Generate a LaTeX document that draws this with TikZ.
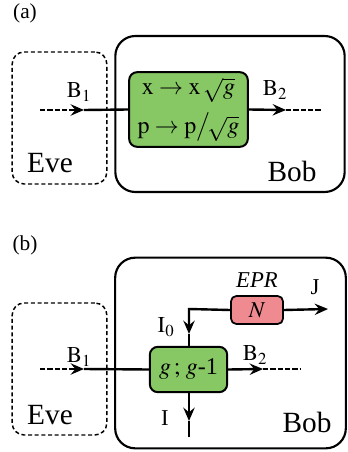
\documentclass[tikz,border=0pt]{standalone}
\usepackage{mathptmx}
\usepackage{fontspec}
\setmainfont{Liberation Serif}
\usetikzlibrary{arrows.meta}
\definecolor{ampgreen}{RGB}{135,200,100}
\definecolor{eprpink}{RGB}{240,138,145}
\tikzset{
  party/.style={draw, line width=1.6pt, rounded corners=15pt, inner sep=0pt},
  evebox/.style={draw, line width=1.1pt, dash pattern=on 3pt off 2pt, rounded corners=9pt, inner sep=0pt},
  amp/.style={draw, line width=1.5pt, rounded corners=6pt, fill=ampgreen, inner sep=0pt, align=center},
  epr/.style={draw, line width=1.3pt, rounded corners=4pt, fill=eprpink, inner sep=0pt},
  wire/.style={line width=1.8pt},
  tip/.style={wire, -{Stealth[length=10pt, width=8.5pt, inset=3.5pt]}},
  dashwire/.style={wire, dash pattern=on 4pt off 1.5pt},
  lbl/.style={font=\fontsize{17}{20}\selectfont, inner sep=0pt},
  party lbl/.style={font=\fontsize{22}{26}\selectfont, inner sep=0pt},
  panel/.style={font=\fontsize{16}{19}\selectfont, inner sep=0pt}
}
\begin{document}
\begin{tikzpicture}[x=0.75pt, y=-0.75pt]
    \useasboundingbox (0,0) rectangle (347,452);
    % (a)
    \node[panel] (pa) at (25,13) {(a)};
    \node[evebox, minimum width=71pt, minimum height=99pt] (evea) at (59.5,118) {};
    \node[party, minimum width=172pt, minimum height=117pt] (boba) at (230,114) {};
    \node[party lbl] (evealbl) at (50,163) {Eve};
    \node[party lbl] (bobalbl) at (292,171) {Bob};
    \node[amp, minimum width=89pt, minimum height=56pt, font=\fontsize{18}{29}\selectfont] (ampa) at (188.5,109.5)
      {$\mathrm{x}\rightarrow\mathrm{x}\mkern2mu\sqrt{g}$\\ $\mathrm{p}\rightarrow\mathrm{p}\big/\!\sqrt{g}$};
    \coordinate (b1ain) at (40,110);
    \coordinate (b1atip) at (84,110);
    \coordinate (b2atip) at (286,110);
    \coordinate (b2aout) at (322,110);
    \draw[tip, dashwire] (b1ain) -- (b1atip);
    \draw[wire] (b1atip) -- (ampa.west);
    \draw[tip] (ampa.east) -- (b2atip);
    \draw[dashwire] (b2atip) -- (b2aout);
    \node[lbl] (b1alb) at (79,92) {$\mathrm{B}_1$};
    \node[lbl] (b2alb) at (275,90) {$\mathrm{B}_2$};
    % (b)
    \node[panel] (pb) at (25,245) {(b)};
    \node[evebox, minimum width=71pt, minimum height=99pt] (eveb) at (59.5,369) {};
    \node[party, minimum width=173pt, minimum height=143pt] (bobb) at (230.5,353) {};
    \node[party lbl] (eveblbl) at (50,415) {Eve};
    \node[party lbl] (bobblbl) at (307,422) {Bob};
    \node[amp, minimum width=58pt, minimum height=34pt, font=\fontsize{18}{22}\selectfont] (ampb) at (188.5,369.5) {$g\,;\,g$-1};
    \node[epr, minimum width=39pt, minimum height=21pt, font=\fontsize{17}{20}\selectfont] (eprn) at (257,310) {$N$};
    \coordinate (b1bin) at (40,369);
    \coordinate (b1btip) at (84,369);
    \coordinate (b2btip) at (263,369);
    \coordinate (b2bout) at (300,369);
    \coordinate (knee) at (189,309);
    \coordinate (i0tip) at (189,334);
    \coordinate (itip) at (189,421);
    \coordinate (iend) at (189,437);
    \coordinate (jtip) at (328,309);
    \draw[tip, dashwire] (b1bin) -- (b1btip);
    \draw[wire] (b1btip) -- (ampb.west);
    \draw[tip] (ampb.east) -- (b2btip);
    \draw[dashwire] (b2btip) -- (b2bout);
    \draw[tip] (eprn.west) -- (knee) -- (i0tip);
    \draw[wire] (i0tip) -- (ampb.north -| knee);
    \draw[tip] (ampb.south -| knee) -- (itip);
    \draw[wire] (itip) -- (iend);
    \draw[tip] (eprn.east) -- (jtip);
    \node[lbl] (b1blb) at (79,357) {$\mathrm{B}_1$};
    \node[lbl] (b2blb) at (255,355) {$\mathrm{B}_2$};
    \node[lbl] (i0lb) at (166,327) {$\mathrm{I}_0$};
    \node[lbl] (ilb) at (165,418) {I};
    \node[lbl] (jlb) at (315,287) {J};
    \node[lbl] (eprlb) at (257,280) {\textit{EPR}};
\end{tikzpicture}
\end{document}
